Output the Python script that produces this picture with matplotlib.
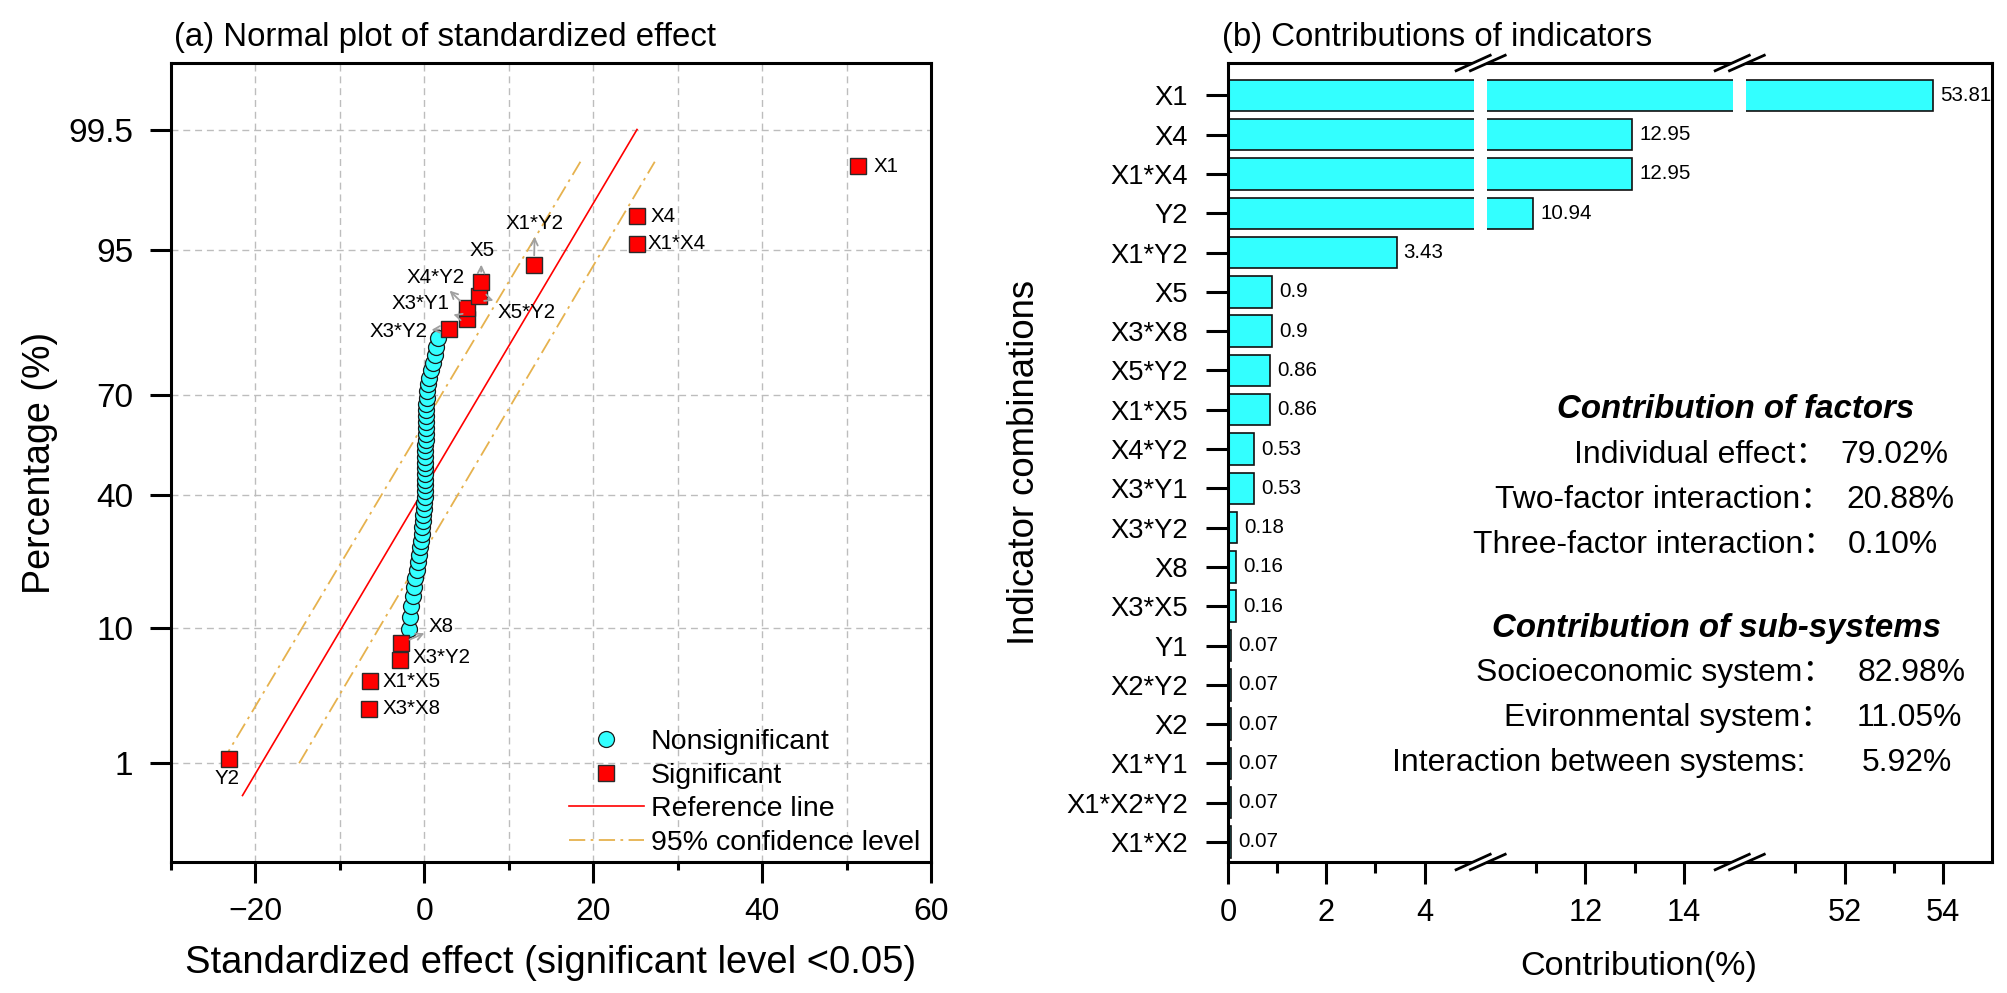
import matplotlib
matplotlib.use('Agg')

from statistics import NormalDist

import numpy as np
import matplotlib.pyplot as plt
from matplotlib import font_manager
from matplotlib.lines import Line2D
from matplotlib.patches import Polygon

# ------------------------------------------------------------------ #
# Fonts: narrow Arial-like face if present, else regular scaled down  #
# ------------------------------------------------------------------ #
_names = {f.name for f in font_manager.fontManager.ttflist}
if 'Liberation Sans Narrow' in _names:
    NARROW, K = 'Liberation Sans Narrow', 1.0
else:
    NARROW, K = 'Liberation Sans', 0.82
FAM = [NARROW, 'Noto Sans CJK SC', 'DejaVu Sans']
REG = ['Liberation Sans', 'DejaVu Sans']
plt.rcParams['font.family'] = FAM
plt.rcParams['mathtext.default'] = 'regular'

# ------------------------------------------------------------------ #
# Data — panel (a): normal plot of standardized effects               #
# ------------------------------------------------------------------ #
SIG_NAMES = ['Y2', 'X3*X8', 'X1*X5', 'X3*Y2', 'X8',
             'X3*Y2', 'X3*Y1', 'X4*Y2', 'X5*Y2', 'X5', 'X1*Y2', 'X1*X4', 'X4', 'X1']
SIG_EFFECTS = [-23.07, -6.57, -6.38, -2.86, -2.78,
               2.94, 5.10, 5.10, 6.49, 6.72, 13.0, 25.2, 25.2, 51.3]
NONSIG_EFFECTS = [-1.75, -1.65, -1.50, -1.35, -1.20, -1.04, -0.90, -0.78, -0.65, -0.52,
                  -0.40, -0.31, -0.24, -0.17, -0.10, -0.04, 0.02, 0.06, 0.09, 0.11,
                  0.12, 0.13, 0.14, 0.15, 0.15, 0.16, 0.16, 0.17, 0.17, 0.18,
                  0.19, 0.20, 0.22, 0.25, 0.30, 0.38, 0.48, 0.62, 0.80, 1.00,
                  1.25, 1.45, 1.67]
REF_PCT = [0.5, 99.5]
REF_EFFECT = [-21.5, 25.2]
CI_PCT = [1, 99]
CI_LOW = [-24.0, 18.5]
CI_HIGH = [-14.8, 27.3]
PCT_TICKS = [1, 10, 40, 70, 95, 99.5]
PCT_TICK_LABELS = ['1', '10', '40', '70', '95', '99.5']
LEGEND_LABELS = ['Nonsignificant', 'Significant', 'Reference line', '95% confidence level']

# ------------------------------------------------------------------ #
# Data — panel (b): contributions                                     #
# ------------------------------------------------------------------ #
INDICATORS = ['X1', 'X4', 'X1*X4', 'Y2', 'X1*Y2', 'X5', 'X3*X8', 'X5*Y2', 'X1*X5',
              'X4*Y2', 'X3*Y1', 'X3*Y2', 'X8', 'X3*X5', 'Y1', 'X2*Y2', 'X2',
              'X1*Y1', 'X1*X2*Y2', 'X1*X2']
CONTRIB = [53.81, 12.95, 12.95, 10.94, 3.43, 0.9, 0.9, 0.86, 0.86, 0.53, 0.53,
           0.18, 0.16, 0.16, 0.07, 0.07, 0.07, 0.07, 0.07, 0.07]
X_MAJOR = [0, 2, 4, 12, 14, 52, 54]
X_MINOR = [1, 3, 11, 13, 51, 53]
FACTOR_ROWS = [('Individual effect：', '79.02%'),
               ('Two-factor interaction：', '20.88%'),
               ('Three-factor interaction：', '0.10%')]
SYSTEM_ROWS = [('Socioeconomic system：', '82.98%'),
               ('Evironmental system：', '11.05%'),
               ('Interaction between systems:', '5.92%')]

# styling
CYAN = '#33FFFF'
GOLD = '#E6B24E'
GRID = '#BDBDBD'
ARROW = '#A0A0A0'
SPINE_W = 2.2
CI_DASH = (0, (9, 3, 1.5, 3))

# label placement for panel (a), offset in points: (dx, dy, ha, arrow)
LABEL_STYLE = [(-1.4, -14.4, 'center', False), (9.8, 0, 'left', False),
               (8.6, -0.7, 'left', False), (9.1, 1.9, 'left', False),
               (29, 12.5, 'center', True), (-36.5, -2.2, 'center', True),
               (-33.8, 10.8, 'center', True), (-22.5, 21.9, 'center', True),
               (34.3, -12.1, 'center', True), (0.5, 22, 'center', True),
               (0.7, 30.2, 'center', True), (7.9, 0.7, 'left', False),
               (9.6, 0, 'left', False), (11.5, 0, 'left', False)]

W, H = 2008, 993
fig = plt.figure(figsize=(W / 100, H / 100), dpi=100)


def box(l, t, r, b):
    return [l / W, 1 - b / H, (r - l) / W, (b - t) / H]


ax1 = fig.add_axes(box(170.7, 63, 931, 862))
ax2 = fig.add_axes(box(1228, 63, 1992, 862))

nd = NormalDist()


def zq(p):
    return np.array([nd.inv_cdf(v / 100.0) for v in np.atleast_1d(p)])


# ------------------------------------------------------------------ #
# Panel (a)                                                           #
# ------------------------------------------------------------------ #
effects = np.array(SIG_EFFECTS + NONSIG_EFFECTS)
is_sig = np.array([True] * len(SIG_EFFECTS) + [False] * len(NONSIG_EFFECTS))
order = np.argsort(effects, kind='stable')
n = len(effects)
ranks = np.empty(n)
ranks[order] = np.arange(1, n + 1)
pct = (ranks - 0.375) / (n + 0.25) * 100   # Blom plotting position
zs = zq(pct)

ax1.plot(CI_LOW, zq(CI_PCT), color=GOLD, lw=1.3, ls=CI_DASH, zorder=2)
ax1.plot(CI_HIGH, zq(CI_PCT), color=GOLD, lw=1.3, ls=CI_DASH, zorder=2)
ax1.plot(REF_EFFECT, zq(REF_PCT), color='red', lw=1.2, zorder=2)

ax1.plot(effects[~is_sig], zs[~is_sig], ls='none', marker='o', ms=11.5,
         mfc=CYAN, mec='#1a1a1a', mew=0.9, zorder=3)
ax1.plot(effects[is_sig], zs[is_sig], ls='none', marker='s', ms=11,
         mfc='#FF0000', mec='#2a2a2a', mew=1.0, zorder=4)

sig_z = zs[is_sig]
for name, xv, yv, (dx, dy, ha, arrow) in zip(SIG_NAMES, SIG_EFFECTS, sig_z, LABEL_STYLE):
    kw = {}
    if arrow:
        kw['arrowprops'] = dict(arrowstyle='<-', color=ARROW, lw=1.3,
                                mutation_scale=12, shrinkA=1, shrinkB=7)
    ax1.annotate(name, xy=(xv, yv), xytext=(dx, dy), textcoords='offset points',
                 ha=ha, va='center', fontsize=18 * K, zorder=5, **kw)

ax1.set_xlim(-30, 60)
ax1.set_ylim(zq(0.1)[0], zq(99.9)[0])
ax1.set_xticks([-20, 0, 20, 40, 60])
ax1.set_xticks([-30, -10, 10, 30, 50], minor=True)
ax1.set_yticks(zq(PCT_TICKS))
ax1.set_yticklabels(PCT_TICK_LABELS)
ax1.grid(True, which='major', color=GRID, ls=(0, (5, 3.5)), lw=1.0)
ax1.grid(True, which='minor', axis='x', color=GRID, ls=(0, (5, 3.5)), lw=1.0)
ax1.set_axisbelow(True)
ax1.tick_params(axis='x', which='major', direction='out', length=15, width=SPINE_W,
                pad=10, labelsize=28 * K)
ax1.tick_params(axis='x', which='minor', direction='out', length=6, width=SPINE_W)
ax1.tick_params(axis='y', which='major', direction='out', length=15, width=SPINE_W,
                pad=12, labelsize=24)
ax1.tick_params(axis='y', which='minor', left=False)
for lab in ax1.get_yticklabels():
    lab.set_fontfamily(REG)

ax1.set_xlabel('Standardized effect (significant level <0.05)', fontsize=33.5 * K)
ax1.xaxis.set_label_coords(0.5, -0.1264)
ax1.xaxis.label.set_va('center')
ax1.set_ylabel('Percentage (%)', fontsize=33 * K)
ax1.yaxis.set_label_coords(-0.172, 0.5)
ax1.yaxis.label.set_va('center')
ax1.text(0.004, 1.0325, '(a) Normal plot of standardized effect', transform=ax1.transAxes,
         ha='left', va='center', fontsize=29 * K)

fs_leg = 25 * K
handles = [
    Line2D([], [], ls='none', marker='o', ms=11.5, mfc=CYAN, mec='#1a1a1a', mew=0.9),
    Line2D([], [], ls='none', marker='s', ms=11, mfc='#FF0000', mec='#2a2a2a', mew=1.0),
    Line2D([], [], color='red', lw=1.2),
    Line2D([], [], color=GOLD, lw=1.3, ls=CI_DASH),
]
ax1.legend(handles, LEGEND_LABELS, loc='lower left', bbox_to_anchor=(0.5233, 0.008),
           frameon=False, fontsize=fs_leg, handlelength=54 / fs_leg,
           handletextpad=5.4 / fs_leg, labelspacing=0.26,
           borderpad=0, borderaxespad=0)

# ------------------------------------------------------------------ #
# Panel (b) — broken x axis through a piecewise function scale        #
# ------------------------------------------------------------------ #
GAP = 0.27
XP = [-100, 0, 5, 10, 15, 50, 55, 200]
FP = [-100, 0, 5, 5 + GAP, 10 + GAP, 10 + 2 * GAP, 15 + 2 * GAP, 160 + 2 * GAP]


def fwd(v):
    return np.interp(v, XP, FP)


def inv(u):
    return np.interp(u, FP, XP)


ax2.set_xscale('function', functions=(fwd, inv))
ypos = np.arange(len(INDICATORS))
ax2.barh(ypos, CONTRIB, height=0.8, color=CYAN, edgecolor='#111111', lw=1.2, zorder=2)
for lo, hi in [(5, 10), (15, 50)]:
    ax2.axvspan(lo, hi, color='white', lw=0, zorder=2.2)
for y, v in zip(ypos, CONTRIB):
    ax2.annotate(f'{v:g}', xy=(v, y), xytext=(5, 0), textcoords='offset points',
                 ha='left', va='center', fontsize=18 * K, zorder=3)

ax2.set_xlim(0, 55)
ax2.set_ylim(19.51, -0.825)
ax2.set_yticks(ypos)
ax2.set_yticklabels(INDICATORS)
ax2.set_xticks(X_MAJOR)
ax2.set_xticklabels([str(v) for v in X_MAJOR])
ax2.set_xticks(X_MINOR, minor=True)
ax2.tick_params(axis='x', which='major', direction='out', length=16, width=SPINE_W,
                pad=10, labelsize=27 * K)
ax2.tick_params(axis='x', which='minor', direction='out', length=8, width=SPINE_W)
ax2.tick_params(axis='y', which='major', direction='out', length=16, width=SPINE_W,
                pad=13, labelsize=24 * K)
ax2.tick_params(axis='y', which='minor', left=False)
ax2.set_xlabel('Contribution(%)', fontsize=30 * K)
ax2.xaxis.set_label_coords(0.538, -0.131)
ax2.xaxis.label.set_va('center')
ax2.set_ylabel('Indicator combinations', fontsize=32 * K)
ax2.yaxis.set_label_coords(-0.267, 0.5)
ax2.yaxis.label.set_va('center')
ax2.text(-0.008, 1.0325, '(b) Contributions of indicators', transform=ax2.transAxes,
         ha='left', va='center', fontsize=29 * K)

for ax in (ax1, ax2):
    for s in ax.spines.values():
        s.set_linewidth(SPINE_W)
        s.set_zorder(2.5)

# contribution summary text
fs_txt = 28 * K
fig.text(1736 / W, 1 - 410 / H, 'Contribution of factors', ha='center', va='center',
         fontsize=29 * K, fontweight='bold', fontstyle='italic')
fig.text(1717 / W, 1 - 628 / H, 'Contribution of sub-systems', ha='center', va='center',
         fontsize=29 * K, fontweight='bold', fontstyle='italic')
rows = [(FACTOR_ROWS[0], 1827, 1840, 455), (FACTOR_ROWS[1], 1832, 1846, 500),
        (FACTOR_ROWS[2], 1835, 1848, 545), (SYSTEM_ROWS[0], 1834, 1858, 673),
        (SYSTEM_ROWS[1], 1832, 1857, 718), (SYSTEM_ROWS[2], 1805, 1862, 763)]
for (lab, val), xr, xv, yy in rows:
    fig.text(xr / W, 1 - yy / H, lab, ha='right', va='center', fontsize=fs_txt)
    fig.text(xv / W, 1 - yy / H, val, ha='left', va='center', fontsize=fs_txt)

# axis-break marks on top and bottom spines
tf_inv = fig.transFigure.inverted()
for xb in (7.5, 32.5):
    cx = ax2.transData.transform((xb, 0))[0]
    for ya in (0, 1):
        cy = ax2.transAxes.transform((0, ya))[1]
        l1 = [(cx - 25.6, cy - 8.3), (cx + 11.0, cy + 8.3)]
        l2 = [(cx - 11.3, cy - 8.3), (cx + 26.0, cy + 8.3)]
        poly = tf_inv.transform(l1 + l2[::-1])
        fig.add_artist(Polygon(poly, closed=True, fc='white', ec='none',
                               transform=fig.transFigure, zorder=5))
        for seg in (l1, l2):
            p = tf_inv.transform(seg)
            fig.add_artist(Line2D(p[:, 0], p[:, 1], color='black', lw=2.0,
                                  solid_capstyle='butt', transform=fig.transFigure, zorder=6))

fig.savefig('out.png', dpi=100)
plt.close(fig)
